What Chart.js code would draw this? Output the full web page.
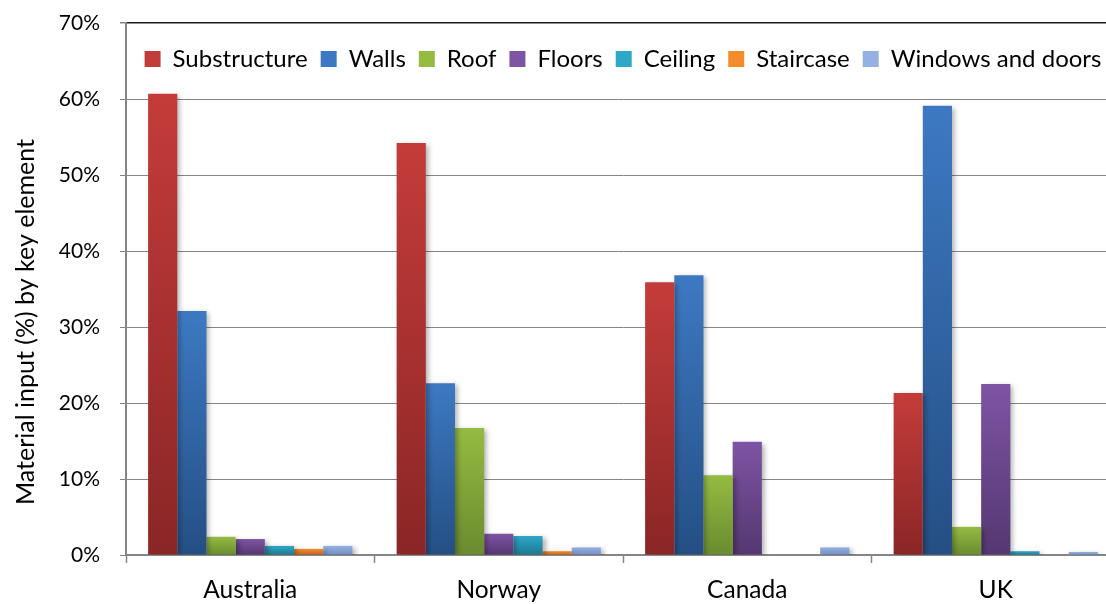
<!DOCTYPE html>
<html lang="en">
<head>
  <meta charset="UTF-8" />
  <title>Material input by key element</title>
  <script src="https://cdn.jsdelivr.net/npm/chart.js"></script>
  <style>
    html, body {
      margin: 0;
      padding: 0;
      background: #fff;
      overflow: hidden;
    }
    #chartWrap {
      width: 1122px;
      height: 604px;
    }
  </style>
</head>
<body>
  <div id="chartWrap">
    <canvas id="materialChart" width="1122" height="604"></canvas>
  </div>

  <script>
    const countries = ["Australia", "Norway", "Canada", "UK"];

    const substructure = [60.7, 54.2, 35.9, 21.3];
    const walls = [32.1, 22.6, 36.8, 59.1];
    const roof = [2.4, 16.7, 10.5, 3.7];
    const floors = [2.1, 2.8, 14.9, 22.5];
    const ceiling = [1.2, 2.5, 0, 0.5];
    const staircase = [0.8, 0.5, 0, 0];
    const windowsDoors = [1.2, 1.0, 1.0, 0.4];

    const yTicks = [0, 10, 20, 30, 40, 50, 60, 70];
    const yTitle = "Material input (%) by key element";

    // top (light) and bottom (dark) colour of each element's gradient
    const shades = {
      "Substructure": ["#c43c3a", "#8a2626"],
      "Walls": ["#3d79c2", "#244f84"],
      "Roof": ["#95bb42", "#6a8b2f"],
      "Floors": ["#7e54a4", "#543771"],
      "Ceiling": ["#2fa7c6", "#1d7891"],
      "Staircase": ["#f58c2b", "#c5631c"],
      "Windows and doors": ["#95b0e2", "#728ec3"]
    };

    const textFont = "Lato, 'Open Sans', sans-serif";

    function barFill(name) {
      return function (context) {
        const chart = context.chart;
        const c = shades[name];
        const ctx = chart.ctx;
        // legend swatch
        if (context.type !== "data") {
          const g = ctx.createLinearGradient(0, 52, 0, 67);
          g.addColorStop(0, c[0]);
          g.addColorStop(1, c[1]);
          return g;
        }
        const y = chart.scales.y;
        if (!y || !chart.chartArea) return c[0];
        const top = y.getPixelForValue(context.raw);
        const base = y.getPixelForValue(0);
        if (base - top < 1) return c[1];
        const g = ctx.createLinearGradient(0, top, 0, base);
        g.addColorStop(0, c[0]);
        g.addColorStop(1, c[1]);
        return g;
      };
    }

    function series(name, values) {
      return {
        label: name,
        data: values,
        backgroundColor: barFill(name),
        borderWidth: 0,
        barPercentage: 1.0,
        categoryPercentage: 0.822
      };
    }

    // soft drop shadow behind the bars
    const barShadow = {
      id: "barShadow",
      beforeDatasetsDraw(chart) {
        const ctx = chart.ctx;
        ctx.save();
        ctx.shadowColor = "rgba(0, 0, 0, 0.3)";
        ctx.shadowBlur = 5;
        ctx.shadowOffsetX = 3;
        ctx.shadowOffsetY = 2;
      },
      afterDatasetsDraw(chart) {
        chart.ctx.restore();
      }
    };

    // legend sits inside the plot: it takes no room in the layout
    const legendInside = {
      id: "legendInside",
      beforeLayout(chart) {
        const lg = chart.legend;
        if (lg && !lg._inside) {
          const fit = lg.fit;
          lg.fit = function () {
            fit.call(this);
            this._fullHeight = this.height;
            this.height = 0;
          };
          lg._inside = true;
        }
      },
      afterLayout(chart) {
        const lg = chart.legend;
        if (lg && lg._fullHeight) {
          lg.height = lg._fullHeight;
          lg.bottom = lg.top + lg.height;
        }
      }
    };

    // vertical axis title, a bit below the middle of the axis
    const axisTitle = {
      id: "axisTitle",
      afterDraw(chart) {
        const ctx = chart.ctx;
        ctx.save();
        ctx.translate(26, 322);
        ctx.rotate(-Math.PI / 2);
        ctx.font = "25px " + textFont;
        ctx.fillStyle = "#000";
        ctx.textAlign = "center";
        ctx.textBaseline = "middle";
        ctx.fillText(yTitle, 0, 0);
        ctx.restore();
      }
    };

    new Chart(document.getElementById("materialChart"), {
      type: "bar",
      data: {
        labels: countries,
        datasets: [
          series("Substructure", substructure),
          series("Walls", walls),
          series("Roof", roof),
          series("Floors", floors),
          series("Ceiling", ceiling),
          series("Staircase", staircase),
          series("Windows and doors", windowsDoors)
        ]
      },
      options: {
        responsive: false,
        animation: false,
        layout: {
          padding: { top: 23, right: 2, left: 0, bottom: 0 }
        },
        plugins: {
          tooltip: { enabled: false },
          legend: {
            position: "top",
            align: "center",
            fullSize: false,
            title: {
              display: true,
              text: "",
              font: { size: 11, lineHeight: 1 },
              padding: 0
            },
            labels: {
              boxWidth: 16,
              boxHeight: 16,
              padding: 13,
              color: "#000",
              font: { family: textFont, size: 24 }
            }
          }
        },
        scales: {
          x: {
            afterFit(scale) {
              scale.height = 49;
              scale.paddingLeft = 0;
              scale.paddingRight = 0;
            },
            grid: {
              offset: true,
              drawOnChartArea: false,
              tickLength: 8,
              tickColor: "#868686",
              tickWidth: 1.5
            },
            border: { color: "#868686", width: 2 },
            ticks: {
              color: "#000",
              padding: 12,
              font: { family: textFont, size: 24.5 }
            }
          },
          y: {
            min: 0,
            max: 70,
            afterFit(scale) {
              scale.width = 126;
              scale.paddingTop = 0;
              scale.paddingBottom = 0;
            },
            afterBuildTicks(scale) {
              scale.ticks = yTicks.map(v => ({ value: v }));
            },
            grid: {
              color: ctx => ctx.tick && ctx.tick.value === 70 ? "#1a1a1a" : "#868686",
              lineWidth: ctx => ctx.tick && ctx.tick.value === 70 ? 1.5 : 1,
              tickLength: 6,
              tickColor: "#868686"
            },
            border: { color: "#868686", width: 2 },
            ticks: {
              color: "#000",
              padding: 20,
              font: { family: textFont, size: 21 },
              callback: v => v + "%"
            }
          }
        }
      },
      plugins: [barShadow, legendInside, axisTitle]
    });
  </script>
</body>
</html>
